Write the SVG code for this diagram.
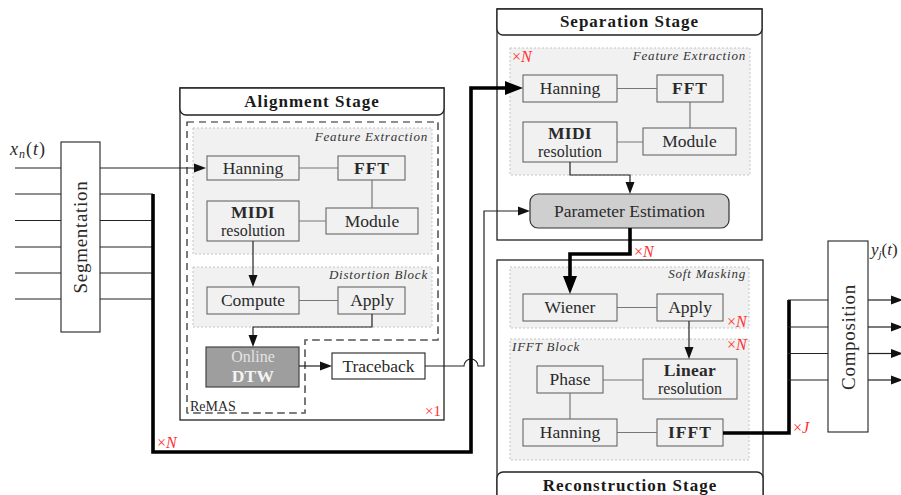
<svg xmlns="http://www.w3.org/2000/svg" width="901" height="495" viewBox="0 0 901 495" font-family="'Liberation Serif', 'DejaVu Serif', serif">
  <defs>
    <marker id="ah" markerUnits="userSpaceOnUse" markerWidth="13" markerHeight="10" refX="0" refY="5" orient="auto">
      <path d="M0,0.5 L12,5 L0,9.5 z" fill="#111"/>
    </marker>
    <marker id="ahb" markerUnits="userSpaceOnUse" markerWidth="19" markerHeight="15" refX="0" refY="7.5" orient="auto">
      <path d="M0,0.5 L18,7.5 L0,14.5 z" fill="#000"/>
    </marker>
    <style>
      text { fill: #2a2a2a; }
      .stage { fill: #fff; stroke: #222; stroke-width: 1.3; }
      .head { fill: #fff; stroke: #222; stroke-width: 1.3; }
      .title { font-size: 17px; font-weight: bold; letter-spacing: 1px; text-anchor: middle; fill: #1a1a1a; }
      .region { fill: #f1f1f1; stroke: #c4c4c4; stroke-width: 1; stroke-dasharray: 2 2; }
      .rlabel { font-size: 13px; font-style: italic; letter-spacing: 0.8px; fill: #333; }
      .box { fill: #f1f1f1; stroke: #666; stroke-width: 1.1; }
      .wbox { fill: #fff; stroke: #222; stroke-width: 1.1; }
      .bt { font-size: 17.5px; text-anchor: middle; }
      .bb { font-size: 17.5px; font-weight: bold; letter-spacing: 1px; text-anchor: middle; }
      .bs { font-size: 16px; text-anchor: middle; }
      .red { font-size: 16px; fill: #ff3030; }
      .math { font-size: 18px; font-style: italic; letter-spacing: 1px; }
      .link { fill: none; stroke: #777; stroke-width: 1.2; }
      .wire { fill: none; stroke: #222; stroke-width: 1.2; }
      .thick { fill: none; stroke: #000; stroke-width: 3.6; }
      .rot { font-size: 19px; letter-spacing: 0.7px; text-anchor: middle; }
    </style>
  </defs>

  <!-- input signal label -->
  <text x="10" y="155" class="math">x<tspan dy="3" style="font-size:12px">n</tspan><tspan dy="-3" style="font-style:normal">(</tspan>t<tspan style="font-style:normal">)</tspan></text>

  <!-- Segmentation -->
  <g id="segmentation">
    <rect x="61" y="142" width="39" height="190" class="wbox"/>
    <text class="rot" transform="translate(86.5,237) rotate(-90)">Segmentation</text>
  </g>

  <!-- Alignment Stage -->
  <g id="alignment-stage">
    <rect x="180" y="88" width="264" height="332" class="stage"/>
    <path d="M180,88 H444 V109 A6,6 0 0 1 438,115 H186 A6,6 0 0 1 180,109 Z" class="head"/>
    <text x="312" y="107" class="title">Alignment Stage</text>
    <!-- ReMAS outline -->
    <path d="M187,122 H438 V340 H305 V413 H187 Z" fill="none" stroke="#222" stroke-width="1.2" stroke-dasharray="7 5"/>
    <path d="M438,122 V340 H305 V413 H187" fill="none" stroke="#777" stroke-width="1.3" stroke-dasharray="7 5"/>
    <text x="190" y="411" style="font-size:14px">ReMAS</text>
    <text x="441" y="416" class="red" style="font-size:15px" text-anchor="end">×1</text>
  </g>

  <g id="align-feature-extraction">
    <rect x="193" y="128" width="239" height="126" class="region"/>
    <text x="428" y="141" class="rlabel" text-anchor="end">Feature Extraction</text>
  </g>
  <g id="align-hanning">
    <rect x="207" y="156" width="92" height="24" class="box"/>
    <text x="253" y="174" class="bt">Hanning</text>
  </g>
  <g id="align-fft">
    <rect x="338" y="156" width="67" height="24" class="box"/>
    <text x="372" y="174" class="bb">FFT</text>
  </g>
  <g id="align-midi">
    <rect x="207" y="201" width="92" height="40" class="box"/>
    <text x="253" y="218" class="bb" style="letter-spacing:0.3px">MIDI</text>
    <text x="253" y="236" class="bs">resolution</text>
  </g>
  <g id="align-module">
    <rect x="326" y="208" width="92" height="26" class="box"/>
    <text x="372" y="227" class="bt">Module</text>
  </g>

  <g id="distortion-block">
    <rect x="193" y="267" width="239" height="60" class="region"/>
    <text x="428" y="279" class="rlabel" text-anchor="end">Distortion Block</text>
  </g>
  <g id="compute">
    <rect x="207" y="287" width="92" height="27" class="box"/>
    <text x="253" y="306" class="bt">Compute</text>
  </g>
  <g id="distortion-apply">
    <rect x="338" y="287" width="67" height="27" class="box"/>
    <text x="372" y="306" class="bt">Apply</text>
  </g>

  <g id="online-dtw">
    <rect x="206" y="347" width="93" height="40" fill="#9e9e9e" stroke="#444" stroke-width="1.2"/>
    <text x="253" y="362" class="bs" style="fill:#e4e4e4">Online</text>
    <text x="253" y="382" class="bb" style="fill:#f4f4f4;letter-spacing:0.3px">DTW</text>
  </g>
  <g id="traceback">
    <rect x="332" y="353" width="93" height="26" class="wbox"/>
    <text x="378.5" y="372" class="bt">Traceback</text>
  </g>

  <!-- Separation Stage -->
  <g id="separation-stage">
    <rect x="497" y="9" width="265" height="231" class="stage"/>
    <path d="M497,9 H762 V29 A6,6 0 0 1 756,35 H503 A6,6 0 0 1 497,29 Z" class="head"/>
    <text x="629.5" y="27" class="title">Separation Stage</text>
  </g>
  <g id="sep-feature-extraction">
    <rect x="510" y="48" width="240" height="127" class="region"/>
    <text x="746" y="60" class="rlabel" text-anchor="end">Feature Extraction</text>
    <text x="512" y="62" class="red">×<tspan style="font-style:italic">N</tspan></text>
  </g>
  <g id="sep-hanning">
    <rect x="523" y="75" width="94" height="27" class="box"/>
    <text x="570" y="94" class="bt">Hanning</text>
  </g>
  <g id="sep-fft">
    <rect x="657" y="75" width="66" height="27" class="box"/>
    <text x="690" y="94" class="bb">FFT</text>
  </g>
  <g id="sep-midi">
    <rect x="523" y="122" width="94" height="40" class="box"/>
    <text x="570" y="139" class="bb" style="letter-spacing:0.3px">MIDI</text>
    <text x="570" y="157" class="bs">resolution</text>
  </g>
  <g id="sep-module">
    <rect x="643" y="128" width="93" height="27" class="box"/>
    <text x="689.5" y="147" class="bt">Module</text>
  </g>
  <g id="parameter-estimation">
    <rect x="530" y="194" width="199" height="34" rx="8" ry="8" fill="#cfcfcf" stroke="#333" stroke-width="1.2"/>
    <text x="629.5" y="217" class="bt">Parameter Estimation</text>
  </g>

  <!-- Reconstruction Stage -->
  <g id="reconstruction-stage">
    <rect x="497" y="260" width="266" height="245" class="stage"/>
    <path d="M497,505 V478 A6,6 0 0 1 503,472 H757 A6,6 0 0 1 763,478 V505 Z" class="head"/>
    <text x="630" y="491" class="title">Reconstruction Stage</text>
  </g>
  <g id="soft-masking">
    <rect x="510" y="267" width="239" height="61" class="region"/>
    <text x="746" y="278" class="rlabel" text-anchor="end">Soft Masking</text>
    <text x="727" y="327" class="red">×<tspan style="font-style:italic">N</tspan></text>
  </g>
  <g id="wiener">
    <rect x="523" y="294" width="94" height="27" class="box"/>
    <text x="570" y="313" class="bt">Wiener</text>
  </g>
  <g id="mask-apply">
    <rect x="657" y="294" width="66" height="27" class="box"/>
    <text x="690" y="313" class="bt">Apply</text>
  </g>
  <g id="ifft-block">
    <rect x="510" y="339" width="239" height="121" class="region"/>
    <text x="512" y="351" class="rlabel">IFFT Block</text>
    <text x="727" y="350" class="red">×<tspan style="font-style:italic">N</tspan></text>
  </g>
  <g id="phase">
    <rect x="537" y="366" width="66" height="27" class="box"/>
    <text x="570" y="385" class="bt">Phase</text>
  </g>
  <g id="linear-resolution">
    <rect x="643" y="359" width="94" height="40" class="box"/>
    <text x="690" y="376" class="bb" style="letter-spacing:0.3px">Linear</text>
    <text x="690" y="394" class="bs">resolution</text>
  </g>
  <g id="rec-hanning">
    <rect x="523" y="419" width="94" height="27" class="box"/>
    <text x="570" y="438" class="bt">Hanning</text>
  </g>
  <g id="ifft">
    <rect x="657" y="419" width="66" height="27" class="box"/>
    <text x="690" y="438" class="bb">IFFT</text>
  </g>

  <!-- Composition -->
  <g id="composition">
    <rect x="828" y="241" width="40" height="191" class="wbox"/>
    <text class="rot" transform="translate(854.5,337) rotate(-90)">Composition</text>
  </g>
  <text x="871" y="255" class="math" style="font-size:17px;letter-spacing:0">y<tspan dy="3" style="font-size:11px">j</tspan><tspan dy="-3" style="font-style:normal">(</tspan>t<tspan style="font-style:normal">)</tspan></text>

  <!-- Connectors -->
  <g id="connectors">
    <!-- signal inputs -->
    <path class="wire" d="M15,168 H61 M15,194 H61 M15,220.5 H61 M15,247 H61 M15,273 H61 M15,299 H61"/>
    <path class="wire" d="M100,194 H153 M100,220.5 H153 M100,247 H153 M100,273 H153 M100,299 H153"/>
    <path class="wire" d="M100,168 H194" marker-end="url(#ah)"/>

    <!-- links inside blocks -->
    <path class="link" d="M299,168 H338 M372,180 V208 M299,221 H326 M299,300.5 H338"/>
    <path class="link" d="M617,88.5 H657 M690,102 V128 M617,142 H643"/>
    <path class="link" d="M617,307.5 H657 M603,380 H643 M570,393 V419 M617,432.5 H657"/>

    <!-- alignment flow -->
    <path class="wire" d="M253,241 V275" marker-end="url(#ah)"/>
    <path class="wire" d="M372,314 V327 H253 V335" marker-end="url(#ah)"/>
    <path class="wire" d="M299,366 H320" marker-end="url(#ah)"/>
    <path class="wire" d="M425,366 H464 A7,7 0 0 1 478,366 H484 V211 H518" marker-end="url(#ah)"/>

    <!-- separation flow -->
    <path class="wire" d="M570,162 V175 H630 V182" marker-end="url(#ah)"/>
    <path class="wire" d="M689,321 V347" marker-end="url(#ah)"/>

    <!-- thick per-instrument paths -->
    <path class="thick" d="M153,194 V452 H471 V88 H505" marker-end="url(#ahb)"/>
    <text x="157" y="448" class="red">×<tspan style="font-style:italic">N</tspan></text>
    <path class="thick" d="M630,228 V254 H570 V276" marker-end="url(#ahb)"/>
    <text x="634" y="257" class="red">×<tspan style="font-style:italic">N</tspan></text>
    <path class="thick" d="M723,433 H789 V300"/>
    <text x="793" y="433" class="red">×<tspan style="font-style:italic">J</tspan></text>

    <!-- composition inputs and outputs -->
    <path class="wire" d="M788,300 H828 M788,327 H828 M788,353.5 H828 M788,380 H828"/>
    <path class="wire" d="M868,300 H891" marker-end="url(#ah)"/>
    <path class="wire" d="M868,327 H891" marker-end="url(#ah)"/>
    <path class="wire" d="M868,353.5 H891" marker-end="url(#ah)"/>
    <path class="wire" d="M868,380 H891" marker-end="url(#ah)"/>
  </g>
</svg>
